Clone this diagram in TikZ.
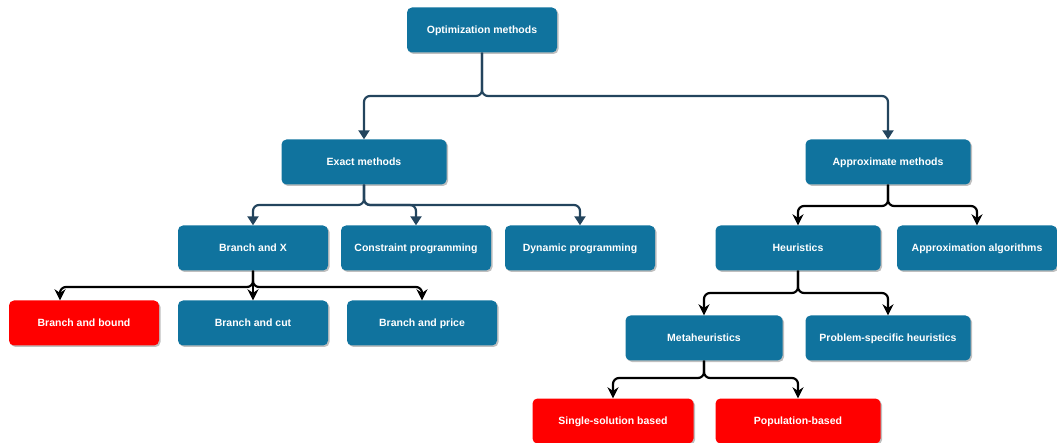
\documentclass[tikz,border=0pt]{standalone}
\usepackage{fontspec}
\setmainfont{Liberation Sans}
\usetikzlibrary{arrows.meta,positioning,calc,shadows}
\definecolor{boxblue}{HTML}{10739E}
\definecolor{linkblue}{HTML}{23445D}

\begin{document}
\begin{tikzpicture}[
    x = 1pt, y = -1pt,
    box/.style = {rectangle, fill=boxblue, rounded corners=5pt, minimum width=150pt, minimum height=45pt, text=white, align=center, text height=7.6pt, text depth=0pt, font=\fontsize{10.5}{12}\selectfont\bfseries, drop shadow={shadow xshift=1.5pt, shadow yshift=-1.5pt, opacity=0.25, fill=black}},
    widebox/.style = {box, minimum width=165pt},
    redbox/.style = {box, fill=red},
    bluelink/.style = {-{Triangle[length=9pt,width=11pt]}, draw=linkblue, line width=2.2pt, rounded corners=6pt},
    blacklink/.style = {-{Stealth[length=11pt,width=11pt]}, draw=black, line width=2.2pt, rounded corners=6pt}
]
    \useasboundingbox (0,0) rectangle (1057,443);

    % Top
    \node[box] (opt) at (482,30) {Optimization methods};

    % Exact / approximate
    \node[widebox] (exact) at (364,162) {Exact methods};
    \node[widebox] (approx) at (888,162) {Approximate methods};

    % Second level
    \node[box] (bx) at (253,248) {Branch and X};
    \node[box] (cp) at (416,248) {Constraint programming};
    \node[box] (dp) at (580,248) {Dynamic programming};
    \node[widebox] (heur) at (798,248) {Heuristics};
    \node[box, minimum width=160pt] (aalg) at (977,248) {Approximation algorithms};

    % Branch and X family
    \node[redbox] (bb) at (84,323) {Branch and bound};
    \node[box] (bc) at (253,323) {Branch and cut};
    \node[box] (bp) at (422,323) {Branch and price};

    % Heuristics family
    \node[box, minimum width=157pt] (meta) at (704,338) {Metaheuristics};
    \node[widebox] (probh) at (888,338) {Problem-specific heuristics};

    % Metaheuristics family
    \node[redbox, minimum width=161pt] (single) at (613,421) {Single-solution based};
    \node[redbox, minimum width=165pt] (pop) at (798,421) {Population-based};

    % Arrows
    \draw[bluelink] (opt.south) -- (opt.south |- 0,96) -| (exact.north);
    \draw[bluelink] (opt.south) -- (opt.south |- 0,96) -| (approx.north);

    \draw[bluelink] (exact.south) -- (exact.south |- 0,205) -| (bx.north);
    \draw[bluelink] (exact.south) -- (exact.south |- 0,205) -| (cp.north);
    \draw[bluelink] (exact.south) -- (exact.south |- 0,205) -| (dp.north);

    \draw[blacklink] (approx.south) -- (approx.south |- 0,206) -| (heur.north);
    \draw[blacklink] (approx.south) -- (approx.south |- 0,206) -| (aalg.north);

    \draw[blacklink] (bx.south) -- (bx.south |- 0,287) -| ([xshift=-24pt]bb.north);
    \draw[blacklink] (bx.south) -- (bc.north);
    \draw[blacklink] (bx.south) -- (bx.south |- 0,287) -| (bp.north);

    \draw[blacklink] (heur.south) -- (heur.south |- 0,293) -| (meta.north);
    \draw[blacklink] (heur.south) -- (heur.south |- 0,293) -| (probh.north);

    \draw[blacklink] (meta.south) -- (meta.south |- 0,378) -| (single.north);
    \draw[blacklink] (meta.south) -- (meta.south |- 0,378) -| (pop.north);

\end{tikzpicture}
\end{document}
